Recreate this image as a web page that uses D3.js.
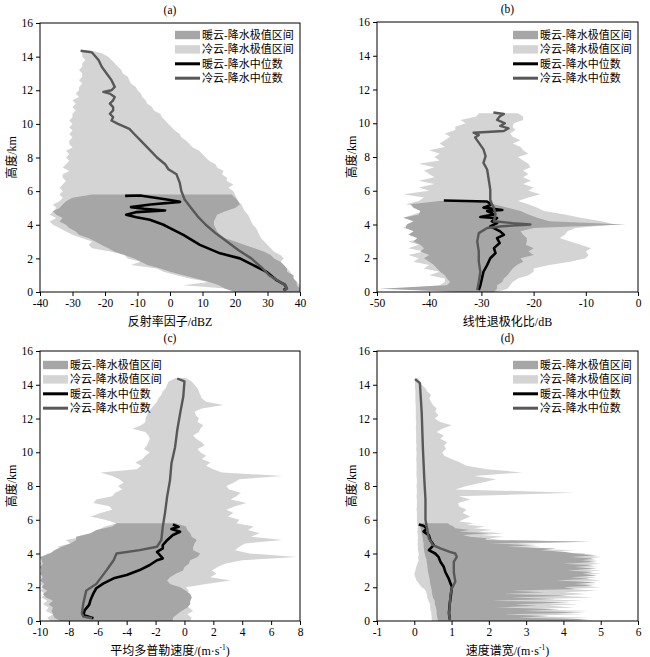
<!DOCTYPE html>
<html><head><meta charset="utf-8">
<script src="https://cdn.jsdelivr.net/npm/d3@7"></script>
<style>body{margin:0;background:#fff}</style>
</head><body><svg id="c" width="650" height="657"></svg>
<script>
// ---------- height grids (km) ----------
const H = [0,0.2,0.4,0.6,0.8,1,1.2,1.4,1.6,1.8,2,2.2,2.4,2.6,2.8,3,3.2,3.4,3.6,3.8,4,4.2,4.4,4.6,4.8,5,5.2,5.4,5.6,5.8,6,6.2,6.4,6.6,6.8,7,7.2,7.4,7.6,7.8,8,8.2,8.4,8.6,8.8,9,9.2,9.4,9.6,9.8,10,10.2,10.4,10.6,10.8,11,11.2,11.4,11.6,11.8,12,12.2,12.4,12.6,12.8,13,13.2,13.4,13.6,13.8,14,14.2,14.4];
const dH = [0,0.1,0.2,0.3,0.4,0.5,0.6,0.7,0.8,0.9,1,1.1,1.2,1.3,1.4,1.5,1.6,1.7,1.8,1.9,2,2.1,2.2,2.3,2.4,2.5,2.6,2.7,2.8,2.9,3,3.1,3.2,3.3,3.4,3.5,3.6,3.7,3.8,3.9,4,4.1,4.2,4.3,4.4,4.5,4.6,4.7,4.8,4.9,5,5.1,5.2,5.3,5.4,5.5,5.6,5.7,5.8,5.9,6,6.2,6.4,6.6,6.8,7,7.2,7.4,7.6,7.8,8,8.2,8.4,8.6,8.8,9,9.2,9.4,9.6,9.8,10,10.2,10.4,10.6,10.8,11,11.2,11.4,11.6,11.8,12,12.2,12.4,12.6,12.8,13,13.2,13.4,13.6,13.8,14,14.2,14.4];
const yTicks = [0,2,4,6,8,10,12,14,16];

// ---------- (a) reflectivity dBZ ----------
const aTicks = [-40,-30,-20,-10,0,10,20,30,40];
const aColdLo = [27,18,4,12,6,2,-2,-4,-12,-9, -13,-14,-18,-24,-25,-24,-27,-30,-32,-34, -36,-37,-35,-37,-36,-35,-36,-34,-33,-34, -33,-34,-33,-32,-33,-33,-31,-33,-32,-31, -32,-31,-32,-30,-31,-31,-30,-31,-30,-31, -30,-31,-30,-30,-29,-30,-29,-30,-28,-29, -28,-28,-27,-28,-27,-27,-28,-27,-27,-26, -27,-27,-27.5];
const aColdHi = [39,40,40,39,38,37.5,37,36,35,34, 35,34,32,31,30,29,28,27.5,27,26.5, 25.5,25,24.5,24,23,22.5,22,21,20.5,20, 19.5,18,19.5,17.5,17.5,16,16.5,14.5,14,12, 11,10,9,7,6,5,3.5,3,1.5,0.5, -0.5,-1.5,-2.5,-3,-5,-5.5,-7,-7.5,-8.5,-9, -10,-10.5,-12,-12.5,-13,-14.5,-15,-16,-17,-18, -19,-21,-25];
const aWarmLo = [20,17,15,12,8,4,0,-3,-7,-9, -11,-14,-17,-19,-21,-23,-25,-28,-29,-31, -32,-34,-33,-35,-36,-34,-33,-32,-30,-24];
const aWarmHi = [40,40,39,39,38,38,36,36,35,34, 32,31,29,26,23,20,17,15.5,14.5,14, 13.5,13.5,14,14.5,17,20,21.5,21,20,19];
const aColdMedH = [0.1,0.2,0.4,0.7,1.0,1.4,2.0,2.5,3.0,3.5,4.0,4.5,5.0,5.5,6.0,6.5,7.0,7.3,7.6,8.0,8.3,8.6,9.0,9.4,9.7,10.0,10.2,10.4,10.6,10.8,11.0,11.2,11.4,11.6,11.8,11.9,12.0,12.2,12.6,13.0,13.4,13.8,14.25,14.35];
const aColdMed = [35,36,35.5,33,30.5,28.5,25,21,17.5,14,11,8.5,6.5,4.5,3.5,3,2,-0.5,-1.5,-4,-5.5,-7,-9,-11,-12.5,-16,-18,-17.5,-18.5,-17.5,-17.5,-18.5,-17.5,-17,-18.5,-20.5,-18,-17,-18,-19.5,-21,-22,-24,-27.5];
const aWarmMedH = [5.72,5.74,5.5,5.36,5.2,5.05,4.95,4.85,4.75,4.6,4.45,4.3,4.0,3.8,3.4,2.8,2.3,2.0,1.6,1.2,0.7,0.42,0.2,0.12];
const aWarmMed = [-13.8,-9.2,-1,3.1,-6,-12,-8,-1.5,-10.5,-13.5,-10.3,-6.2,-2,0,4.1,9.2,15.4,21.5,25.6,29.7,32.8,35.4,35.9,34.9];

// ---------- (b) LDR dB ----------
const bTicks = [-50,-40,-30,-20,-10,0];
const bColdLo = [-35,-47,-38,-37,-37,-40,-38,-41,-40,-43, -42,-44,-41,-44,-42,-44,-41,-43,-42,-45, -44,-43,-45,-43,-41,-40,-44.5,-42,-41,-45, -40,-42,-39,-42,-39,-40,-41,-39,-42,-38, -39,-38,-40,-37,-38,-37,-36,-37,-35,-35, -33,-34,-31,-30.5];
const bColdHi = [-27,-25,-24.5,-24,-23,-21,-20,-20,-17,-13, -10,-9.5,-10,-9,-11,-13,-15,-14,-13.5,-12, -4.5,-7,-11,-14,-18,-19.3,-21,-23,-21,-18.7, -21,-20,-22,-20.5,-22,-21,-22,-20.6,-21,-22, -23,-21,-22,-22.5,-24,-22.5,-24,-24.5,-23.5,-24, -23.8,-22,-22,-23];
const bWarmLo = [-34,-49.5,-36.6,-36,-36.6,-37,-37.9,-38.5,-39.1,-40, -41,-40,-41.7,-41,-41.7,-43,-42.3,-44,-43,-44.5, -44.3,-43,-44.9,-42,-41.7,-43,-43.6,-38];
const bWarmHi = [-27.6,-27,-27,-26,-25.7,-25,-24.5,-24,-23.2,-22, -22.5,-20,-21,-20,-21.5,-21.3,-21.3,-22,-22.5,-20, -2.4,-17,-19.3,-21,-22.5,-25,-27.6,-29];
const bColdMedH = [10.64,10.55,10.4,10.2,10.0,9.84,9.7,9.54,9.44,9.3,9.15,8.85,8.45,8.05,7.65,7.26,6.67,6.07,5.48,5.2,4.98,4.6,4.19,4.08,4.0,3.9,3.79,3.49,3.0,2.4,1.8,1.2,0.6,0.11];
const bColdMed = [-27.7,-25.7,-26.5,-27,-25.5,-26.4,-24.8,-25.7,-31.5,-30.5,-31.2,-30.5,-29.6,-29.2,-29.6,-28.9,-28.6,-28.3,-28.3,-28,-27.6,-27.3,-27.6,-24,-20.6,-26,-28.9,-30.5,-30.8,-30.5,-30.5,-30.2,-30.5,-30.8];
const bWarmMedH = [5.42,5.36,5.18,5.0,4.86,4.8,4.6,4.44,4.38,4.19,4.09,3.89,3.59,3.39,3.19,2.9,2.6,2.3,2.0,1.6,1.2,0.8,0.4,0.11];
const bWarmMed = [-37.2,-28.9,-28,-29.6,-26,-28.9,-27.5,-30.2,-27,-28,-27,-28.3,-26.4,-25.7,-27,-26.5,-27.6,-27.3,-28.3,-28.9,-29.6,-29.9,-30.2,-30.5];

// ---------- (c) mean Doppler velocity m/s ----------
const cTicks = [-10,-8,-6,-4,-2,0,2,4,6,8];
const cColdLo = [-9.3,-9.5,-9.1,-9.6,-9.4,-9.8,-9.5,-9.9,-9.6,-10, -9.7,-10,-9.8,-10,-9.6,-10,-9.8,-10,-9.9,-9.8, -9.5,-8.4,-8.8,-7.9,-8.2,-7,-6.5,-6,-5.5,-4.7, -5.5,-6.5,-5.8,-5,-5.2,-6.3,-6.1,-5,-4.8,-4.3, -4.6,-4.2,-4.5,-5,-5.8,-3.3,-3.0,-3.4,-2.9,-2.7, -2.4,-2.8,-2.6,-2.5,-2.4,-2.5,-2.7,-3.6,-3.0,-2.7, -2.7,-2.6,-2.5,-2.3,-2.1,-1.9,-1.8,-1.6,-1.5,-1.3, -1.2,-1.1,-0.6];
const cColdHi = [0.4,0.5,0.2,0.6,0.3,0.1,0.4,0.5,0.2,0.3, 0.1,1.5,3.2,1.8,2.2,1.9,2.3,2.8,4,7.8, 4.5,3.5,3.8,4.2,6.8,4.6,5.2,4.4,4.8,3.6, 3.8,3,3.4,2.9,3.5,4.3,3.2,3.6,3.9,3.1, 2.9,3.4,3.8,6.8,2.6,2,1.5,1.8,1.2,1.5, 1.1,0.9,1.4,1.2,0.8,0.6,1,1.1,1.3,0.9, 1,0.8,0.7,1.2,2.7,1.5,1.2,1.1,1,0.9, 0.7,0.5,0.1];
const cWarmLo = [-8.6,-9.0,-9.1,-9.2,-9.1,-9.4,-9.1,-9.6,-9.8,-9.5, -9.9,-9.7,-10,-9.8,-10,-9.9,-10,-9.8,-9.9,-10, -9.3,-9.0,-8.5,-7.9,-7.5,-7.5,-6.5,-6.1,-5.0,-4.7];
const cWarmHi = [-0.8,-0.8,-0.5,-0.2,0.2,0.4,0.4,0.5,0.4,0.1, -0.3,-1.0,-1.2,-1.0,-0.6,-0.1,0.0,0.3,0.4,0.9, 1.1,0.6,0.6,0.7,0.85,0.5,0.4,0.2,0.1,-0.6];
const cColdMedH = [14.37,14.2,13.3,12.3,11.3,10.3,9.33,8.35,7.36,6.38,5.59,4.8,4.4,4.2,4.0,3.6,3.0,2.2,1.8,1.05,0.45,0.26,0.16];
const cColdMed = [-0.5,0,-0.08,-0.3,-0.5,-0.65,-0.9,-1,-1.2,-1.35,-1.5,-1.6,-1.9,-3.1,-4.7,-4.9,-5.4,-6.1,-6.8,-7,-7.1,-7,-6.4];
const cWarmMedH = [5.72,5.58,5.45,5.29,5.1,4.79,4.5,4.3,4.1,3.71,3.6,3.32,3.02,2.73,2.53,2.23,1.94,1.64,1.25,0.95,0.65,0.36,0.16];
const cWarmMed = [-0.8,-0.4,-0.9,-0.3,-0.8,-1.2,-1.5,-1.5,-1.9,-1.5,-1.9,-2.4,-3.1,-4,-4.9,-5.6,-6.1,-6.3,-6.5,-6.6,-6.9,-7,-6.3];

// ---------- (d) spectrum width m/s (finer grid dH) ----------
const dTicks = [-1,0,1,2,3,4,5,6];
const dColdLo = [0.47,0.47,0.46,0.47,0.45,0.46,0.44,0.43,0.43,0.42, 0.43,0.4,0.38,0.37,0.34,0.35,0.33,0.32,0.3,0.27, 0.2,0.16,0.13,0.1,0.06,0.04,0.03,0.01,0.0,0.02, 0.03,0.04,0.05,0.07,0.08,0.1,0.12,0.11,0.1,0.12, 0.12,0.11,0.1,0.1,0.1,0.09,0.09,0.1,0.09,0.1, 0.1,0.09,0.09,0.08,0.09,0.09,0.1,0.08,0.08,0.07, 0.07,
  0.07,0.07,0.06,0.07,0.07,0.07,0.06,0.07,0.07, 0.06,0.07,0.07,0.06,0.06,0.06,0.06,0.06,0.05,0.06, 0.06,0.05,0.06,0.05,0.05,0.05,0.05,0.04,0.05,0.05, 0.04,0.04,0.04,0.04,0.04,0.03,0.03,0.03,0.03,0.02, 0.02,0.02,0.03];
const dColdHi = [4.9,3.8,4.7,2.9,4.5,3.5,4.7,3.0,4.3,3.6, 4.4,3.0,4.5,3.4,4.8,3.9,4.6,4.0,4.9,4.2, 5.0,4.4,4.9,4.1,5.0,4.6,4.9,4.3,5.0,4.5, 5.0,4.2,4.9,4.6,5.0,4.4,4.9,4.7,5.0,4.5, 4.6,3.6,4.3,2.8,3.4,2.2,3.0,4.7,2.3,2.0, 2.4,1.8,2.4,1.7,2.1,1.6,1.9,1.4,1.6,1.2, 1.3,
  1.5,1.3,1.4,1.2,1.18,1.5,1.2,4.3,1.1, 1.4,1.8,2.2,1.6,2.9,1.95,1.4,1.23,1.0,0.8, 0.75,0.85,0.8,0.88,0.7,0.79,0.6,0.75,1.0,0.7, 0.55,0.65,0.56,0.6,0.5,0.45,0.4,0.45,0.35,0.3, 0.2,0.16,0.1];
const dWarmLo = [0.64,0.63,0.62,0.61,0.6,0.6,0.6,0.59,0.58,0.57, 0.55,0.55,0.55,0.52,0.5,0.49,0.48,0.47,0.47,0.46, 0.45,0.44,0.43,0.42,0.42,0.41,0.4,0.39,0.38,0.37, 0.36,0.36,0.35,0.35,0.34,0.33,0.33,0.32,0.3,0.29, 0.28,0.27,0.26,0.26,0.25,0.25,0.25,0.24,0.23,0.23, 0.22,0.21,0.2,0.19,0.18,0.17,0.16,0.15,0.15];
const dWarmHi = [4.0,4.7,2.8,3.6,2.4,4.6,2.9,3.9,2.2,3.3, 2.7,4.2,2.1,3.8,2.6,4.1,2.4,3.5,2.6,4.3, 4.0,4.8,4.3,4.9,3.8,4.7,4.2,4.9,4.5,4.8, 4.1,4.9,4.3,4.8,4.0,4.9,4.5,4.8,4.2,4.9, 4.3,4.0,3.4,3.8,2.5,3.3,2.0,4.7,1.9,1.95, 1.5,1.3,2.0,1.2,1.5,1.1,1.05,0.95,0.9];
const dColdMedH = [14.33,14.1,12.3,10.3,8.35,7.2,6.0,4.9,4.5,4.3,4.1,4.0,3.8,3.5,2.9,2.33,1.94,1.54,0.95,0.35,0.06];
const dColdMed = [0.02,0.15,0.2,0.23,0.27,0.3,0.3,0.39,0.5,0.7,0.95,1.1,1.14,1.06,1.06,1.1,1.01,0.97,0.95,0.93,0.96];
const dWarmMedH = [5.72,5.65,5.48,5.3,5.09,4.79,4.5,4.2,4.0,3.8,3.51,3.21,2.92,2.53,2.23,2.03,1.5,1.0,0.5,0.1];
const dWarmMed = [0.12,0.25,0.34,0.25,0.39,0.43,0.52,0.39,0.56,0.65,0.7,0.79,0.83,0.92,0.97,1.01,0.98,0.95,0.93,0.95];

// ---------- text ----------
const legendLabels = ["暖云-降水极值区间","冷云-降水极值区间","暖云-降水中位数","冷云-降水中位数"];
const yLabel = "高度/km";

// ---------- styles ----------
const WARM_FILL = "#a6a6a6", COLD_FILL = "#d4d4d4", WARM_LINE = "#000", COLD_LINE = "#585858";
const FONT = "'Liberation Serif','Times New Roman','Noto Sans CJK SC',serif";

const panels = [
  {id:"a", box:[40,300,23,292], dom:[-40,40], ticks:aTicks, title:"(a)", xlabel:["反射率因子/dBZ"], leg:[175,35], ylx:12, hh:H,
   cLo:aColdLo, cHi:aColdHi, wLo:aWarmLo, wHi:aWarmHi, cmH:aColdMedH, cm:aColdMed, wmH:aWarmMedH, wm:aWarmMed},
  {id:"b", box:[377,638,22,292], dom:[-50,0], ticks:bTicks, title:"(b)", xlabel:["线性退极化比/dB"], leg:[513,35], ylx:352, hh:H,
   cLo:bColdLo, cHi:bColdHi, wLo:bWarmLo, wHi:bWarmHi, cmH:bColdMedH, cm:bColdMed, wmH:bWarmMedH, wm:bWarmMed},
  {id:"c", box:[40,300,351,621], dom:[-10,8], ticks:cTicks, title:"(c)", xlabel:["平均多普勒速度/(m·s","-1",")"], leg:[43,365], ylx:12, hh:H,
   cLo:cColdLo, cHi:cColdHi, wLo:cWarmLo, wHi:cWarmHi, cmH:cColdMedH, cm:cColdMed, wmH:cWarmMedH, wm:cWarmMed},
  {id:"d", box:[377,638,351,621], dom:[-1,6], ticks:dTicks, title:"(d)", xlabel:["速度谱宽/(m·s","-1",")"], leg:[513,365], ylx:352, hh:dH,
   cLo:dColdLo, cHi:dColdHi, wLo:dWarmLo, wHi:dWarmHi, cmH:dColdMedH, cm:dColdMed, wmH:dWarmMedH, wm:dWarmMed}
];

const svg = d3.select("#c");
const defs = svg.append("defs");

panels.forEach(p => {
  const [L,R,T,B] = p.box;
  const x = d3.scaleLinear().domain(p.dom).range([L,R]);
  const y = d3.scaleLinear().domain([0,16]).range([B,T]);
  const g = svg.append("g");

  defs.append("clipPath").attr("id","clip-"+p.id)
    .append("rect").attr("x",L).attr("y",T).attr("width",R-L).attr("height",B-T);
  const plot = g.append("g").attr("clip-path",`url(#clip-${p.id})`);

  const area = d3.area().y(d=>y(d.h)).x0(d=>x(d.lo)).x1(d=>x(d.hi));
  const cold = p.cLo.map((v,i)=>({h:p.hh[i], lo:v, hi:p.cHi[i]}));
  const warm = p.wLo.map((v,i)=>({h:p.hh[i], lo:v, hi:p.wHi[i]}));
  plot.append("path").attr("d",area(cold)).attr("fill",COLD_FILL);
  plot.append("path").attr("d",area(warm)).attr("fill",WARM_FILL);

  const line = d3.line().x(d=>x(d.v)).y(d=>y(d.h));
  plot.append("path").attr("d",line(p.wm.map((v,i)=>({h:p.wmH[i], v}))))
    .attr("fill","none").attr("stroke",WARM_LINE).attr("stroke-width",2.6).attr("stroke-linejoin","round");
  plot.append("path").attr("d",line(p.cm.map((v,i)=>({h:p.cmH[i], v}))))
    .attr("fill","none").attr("stroke",COLD_LINE).attr("stroke-width",2.4).attr("stroke-linejoin","round");

  // axes
  const ax = g.append("g").attr("transform",`translate(0,${B})`)
    .call(d3.axisBottom(x).tickValues(p.ticks).tickSize(4).tickPadding(3).tickFormat(d=>String(d)));
  const ay = g.append("g").attr("transform",`translate(${L},0)`)
    .call(d3.axisLeft(y).tickValues(yTicks).tickSize(4).tickPadding(3).tickFormat(d=>String(d)));
  [ax,ay].forEach(a=>{
    a.select(".domain").remove();
    a.attr("font-family",FONT).attr("font-size",11.5);
    a.selectAll("line").attr("stroke","#000");
    a.selectAll("text").attr("fill","#000");
  });
  g.append("rect").attr("x",L).attr("y",T).attr("width",R-L).attr("height",B-T)
    .attr("fill","none").attr("stroke","#000").attr("stroke-width",1);

  // title
  g.append("text").attr("x",(L+R)/2).attr("y",T-9).attr("text-anchor","middle")
    .attr("font-family",FONT).attr("font-size",11.5).text(p.title);

  // x label
  const xl = g.append("text").attr("x",(L+R)/2).attr("y",B+34).attr("text-anchor","middle")
    .attr("font-family",FONT).attr("font-size",12);
  xl.append("tspan").text(p.xlabel[0]);
  if (p.xlabel.length>1){
    xl.append("tspan").attr("font-size",7.5).attr("dy",-5).text(p.xlabel[1]);
    xl.append("tspan").attr("dy",5).text(p.xlabel[2]);
  }
  // y label
  g.append("text").attr("transform",`translate(${p.ylx},${(T+B)/2}) rotate(-90)`)
    .attr("text-anchor","middle").attr("dominant-baseline","central")
    .attr("font-family",FONT).attr("font-size",12).text(yLabel);

  // legend
  const [lx,ly] = p.leg;
  const rowH = 14.4;
  legendLabels.forEach((lab,i)=>{
    const cy = ly + i*rowH;
    if (i<2){
      g.append("rect").attr("x",lx).attr("y",cy-4.2).attr("width",25).attr("height",8.4)
        .attr("fill", i===0?WARM_FILL:COLD_FILL);
    } else {
      g.append("line").attr("x1",lx).attr("x2",lx+25).attr("y1",cy).attr("y2",cy)
        .attr("stroke", i===2?WARM_LINE:COLD_LINE).attr("stroke-width",3);
    }
    g.append("text").attr("x",lx+27).attr("y",cy+4).attr("font-family",FONT).attr("font-size",11)
      .attr("fill","#000").text(lab);
  });
});
</script>
</body></html>
